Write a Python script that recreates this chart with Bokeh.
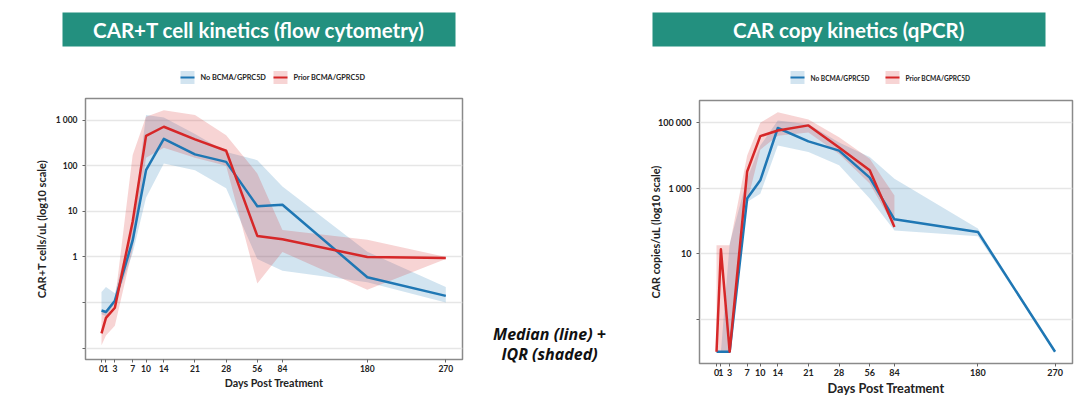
import numpy as np
from bokeh.plotting import figure
from bokeh.layouts import row, column
from bokeh.models import Range1d, FixedTicker
from bokeh.core.properties import value
from bokeh.embed import file_html
from bokeh.resources import INLINE

# ---------------------------------------------------------------- data
days = [0, 1, 3, 7, 10, 14, 21, 28, 56, 84, 180, 270]
day_labels = ["0", "1", "3", "7", "10", "14", "21", "28", "56", "84", "180", "270"]

# CAR+T cells/uL by flow cytometry: median and interquartile range
flow_no_med = [0.067, 0.062, 0.11, 2.3, 80, 390, 178, 122, 13, 14, 0.36, 0.14]
flow_no_q1 = [0.055, 0.05, 0.095, 1.2, 20, 113, 80, 32, 0.9, 0.5, 0.28, 0.10]
flow_no_q3 = [0.17, 0.22, 0.16, 5, 1300, 1150, 500, 200, 133, 35, 1.3, 0.22]
flow_pr_med = [0.021, 0.046, 0.077, 6, 455, 720, 380, 214, 2.9, 2.45, 1.0, 0.95]
flow_pr_q1 = [0.0115, 0.019, 0.031, 1.5, 150, 250, 150, 100, 0.26, 1.29, 0.19, 0.9]
flow_pr_q3 = [0.062, 0.067, 0.11, 172, 1200, 1660, 1300, 470, 68, 3.9, 2.4, 1.0]

# CAR copies/uL by qPCR (undetectable values sit at the 0.01 floor)
qpcr_no_med = [0.01, 0.01, 0.01, 480, 1740, 69000, 27000, 14000, 2100, 112, 46, 0.01]
qpcr_no_q1 = [0.01, 0.01, 0.01, 380, 680, 20000, 12700, 5000, 480, 51, 34, 0.01]
qpcr_no_q3 = [0.01, 0.01, 20, 2000, 20000, 117000, 90000, 25000, 9000, 1950, 58, 0.01]
qpcr_pr_days = [0, 1, 3, 7, 10, 14, 21, 28, 56, 84]
qpcr_pr_med = [0.01, 13.5, 0.01, 3240, 39000, 58000, 83000, 17500, 3500, 65]
qpcr_pr_q1 = [0.01, 0.01, 0.01, 380, 15000, 40000, 50000, 11000, 1400, 65]
qpcr_pr_q3 = [18, 18, 18, 10000, 100000, 210000, 126000, 36000, 8000, 600]

flow_y_ticks = [0.01, 0.1, 1, 10, 100, 1000]
flow_y_labels = ["", "", "1", "10", "100", "1 000"]
qpcr_y_ticks = [0.1, 10, 1000, 100000]
qpcr_y_labels = ["", "10", "1 000", "100 000"]

legend_labels = ["No BCMA/GPRC5D", "Prior BCMA/GPRC5D"]

# ---------------------------------------------------------------- style
BLUE = "#1f77b4"
RED = "#d62728"
TEAL = "#23907f"
FONT = "Lato"
INK = "#222222"

# piecewise time axis: early days spread out, late follow-up compressed
DAY_KNOTS = [0, 28, 56, 84, 180, 270]
POS_KNOTS = [0.0, 0.362, 0.4525, 0.5255, 0.772, 1.0]


def day_pos(d):
    return [float(v) for v in np.interp(d, DAY_KNOTS, POS_KNOTS)]


def canvas(width, height):
    """Plain pixel-space figure (y grows downward) for banners and notes."""
    p = figure(width=width, height=height, x_range=Range1d(0, width),
               y_range=Range1d(height, 0), x_axis_location=None,
               y_axis_location=None, min_border=0, min_border_left=0,
               min_border_right=0, min_border_top=0, min_border_bottom=0,
               outline_line_color=None, frame_align=False,
               output_backend="svg", toolbar_location=None)
    p.grid.visible = False
    return p


def banner(width, height, box_l, box_r, title, title_size, swatches, legend_size):
    p = canvas(width, height)
    p.quad(left=[box_l], right=[box_r], top=[12], bottom=[46],
           fill_color=TEAL, line_color=None)
    p.text(x=[(box_l + box_r) / 2], y=[29.5], text=[title],
           text_align="center", text_baseline="middle", text_color="white",
           text_font=value(FONT), text_font_style="bold",
           text_font_size=title_size)
    for (sx, color, label) in swatches:
        p.quad(left=[sx], right=[sx + 14], top=[70.5], bottom=[83.5],
               fill_color=color, fill_alpha=0.2, line_color=None)
        p.segment(x0=[sx], x1=[sx + 14], y0=[77], y1=[77],
                  line_color=color, line_width=2.2)
        p.text(x=[sx + 20], y=[77], text=[label], text_align="left",
               text_baseline="middle", text_color=INK,
               text_font=value(FONT), text_font_style="bold",
               text_font_size=legend_size)
    return p


def chart(width, height, borders, x_range, y_range, y_ticks, y_labels,
          y_title, series, tick_size, xlab_size, ylab_size, ylab_standoff):
    bl, br, bt, bb = borders
    p = figure(width=width, height=height, y_axis_type="log",
               x_range=Range1d(*x_range), y_range=Range1d(*y_range),
               min_border_left=bl, min_border_right=br,
               min_border_top=bt, min_border_bottom=bb, frame_align=False,
               output_backend="svg", toolbar_location=None,
               background_fill_color="white", border_fill_color="white")
    for d, q1, q3, med, color in series:
        p.varea(x=day_pos(d), y1=q1, y2=q3, fill_color=color, fill_alpha=0.2)
    for d, q1, q3, med, color in series:
        p.line(x=day_pos(d), y=med, line_color=color, line_width=2.5,
               line_join="round")

    xt = day_pos(days)
    p.xaxis.ticker = FixedTicker(ticks=xt)
    p.xaxis.major_label_overrides = dict(zip(xt, day_labels))
    p.yaxis.ticker = FixedTicker(ticks=y_ticks)
    p.yaxis.major_label_overrides = dict(zip([float(t) for t in y_ticks], y_labels))

    p.xaxis.axis_label = "Days Post Treatment"
    p.yaxis.axis_label = y_title
    for ax in (p.xaxis, p.yaxis):
        ax.axis_line_color = None
        ax.major_tick_line_color = "#666666"
        ax.major_tick_in = 0
        ax.major_tick_out = 3
        ax.minor_tick_line_color = None
        ax.major_label_text_font = FONT
        ax.major_label_text_font_style = "bold"
        ax.major_label_text_font_size = tick_size
        ax.major_label_text_color = INK
        ax.axis_label_text_font = FONT
        ax.axis_label_text_font_style = "bold"
        ax.axis_label_text_color = INK
    p.xaxis.major_label_standoff = 2
    p.yaxis.major_label_standoff = 5
    p.xaxis.axis_label_text_font_size = xlab_size
    p.yaxis.axis_label_text_font_size = ylab_size
    p.xaxis.axis_label_standoff = 1
    p.yaxis.axis_label_standoff = ylab_standoff

    p.xgrid.visible = False
    p.ygrid.grid_line_color = "#e6e6e6"
    p.ygrid.grid_line_width = 1.5
    p.outline_line_color = "#8a8a8a"
    p.outline_line_width = 1.5
    return p


# ---------------------------------------------------------------- left panel
flow_banner = banner(480, 90, 62, 455, "CAR+T cell kinetics (flow cytometry)",
                     "20.5px", [(180, BLUE, legend_labels[0]),
                                (273, RED, legend_labels[1])], "7.3px")
flow_chart = chart(
    480, 326, (85, 18, 8, 57), (-0.0465, 1.0485), (10 ** -2.25, 10 ** 3.477),
    flow_y_ticks, flow_y_labels, "CAR+T cells/uL (log10 scale)",
    [(days, flow_no_q1, flow_no_q3, flow_no_med, BLUE),
     (days, flow_pr_q1, flow_pr_q3, flow_pr_med, RED)],
    "8.5px", "10.7px", "11px", 5)

# ---------------------------------------------------------------- note
note = canvas(160, 416)
note.text(x=[69, 69], y=[333, 353], text=["Median (line) +", "IQR (shaded)"],
          text_align="center", text_baseline="middle", text_color="#111111",
          text_font=value("Open Sans"), text_font_style="bold italic",
          text_font_size="16px")

# ---------------------------------------------------------------- right panel
qpcr_banner = banner(440, 90, 12, 405, "CAR copy kinetics (qPCR)", "20.5px",
                     [(150, BLUE, legend_labels[0]),
                      (245, RED, legend_labels[1])], "6.6px")
qpcr_chart = chart(
    440, 326, (59, 8, 10, 53), (-0.0503, 1.0515), (10 ** -2.36, 10 ** 5.68),
    qpcr_y_ticks, qpcr_y_labels, "CAR copies/uL (log10 scale)",
    [(days, qpcr_no_q1, qpcr_no_q3, qpcr_no_med, BLUE),
     (qpcr_pr_days, qpcr_pr_q1, qpcr_pr_q3, qpcr_pr_med, RED)],
    "9px", "12.7px", "10.8px", -7)

layout = row(column(flow_banner, flow_chart), note,
             column(qpcr_banner, qpcr_chart))

open("out.html", "w").write(file_html(layout, INLINE))
